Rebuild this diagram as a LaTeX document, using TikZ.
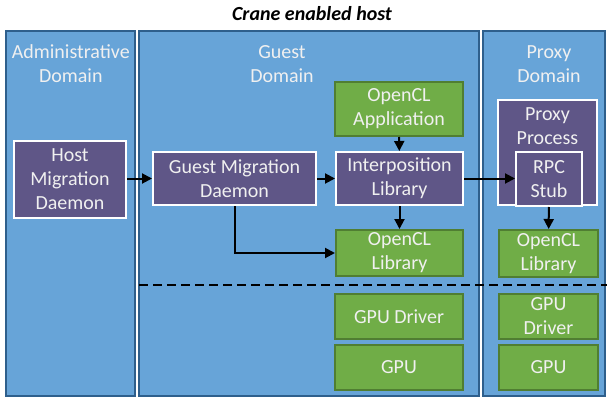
\documentclass[tikz,border=0pt]{standalone}
\usepackage{fontspec}
\setmainfont{Carlito}
\usetikzlibrary{arrows.meta}
\definecolor{domfill}{RGB}{103,164,216}
\definecolor{domline}{RGB}{46,95,140}
\definecolor{procfill}{RGB}{95,86,135}
\definecolor{libfill}{RGB}{112,173,71}
\definecolor{libline}{RGB}{80,126,50}
\definecolor{boxtext}{RGB}{240,240,240}
\tikzset{
  dombox/.style={draw=domline, fill=domfill, line width=1.5pt},
  domtext/.style={text=boxtext, align=center, font=\fontsize{20}{24}\selectfont},
  proc/.style={draw=white, fill=procfill, line width=2pt, text=boxtext,
    align=center, font=\fontsize{20}{24}\selectfont, inner sep=0pt},
  lib/.style={draw=libline, fill=libfill, line width=2pt, text=boxtext,
    align=center, font=\fontsize{20}{24}\selectfont, inner sep=0pt},
  arr/.style={line width=2pt, -{Triangle[length=10pt,width=10pt]}},
}
\begin{document}
\begin{tikzpicture}[x=1pt,y=-1pt]
  \useasboundingbox (0,0) rectangle (607,401);
  % domains
  \node[dombox, minimum width=129, minimum height=365] (admin) at (70.5,213.5) {};
  \node[dombox, minimum width=340, minimum height=365] (guest) at (309,213.5) {};
  \node[dombox, minimum width=122, minimum height=365] (proxyDom) at (544,213.5) {};
  \node[font=\fontsize{20}{24}\selectfont\bfseries\itshape] (title) at (312,14) {Crane enabled host};
  \node[domtext] (adminT) at (70.8,64) {Administrative\\Domain};
  \node[domtext] (guestT) at (282,64) {Guest\\Domain};
  \node[domtext] (proxyT) at (549,64) {Proxy\\Domain};
  % separator
  \draw[line width=2.5pt, dash pattern=on 9pt off 5pt] (139,285) -- (607,285);
  % purple boxes
  \node[proc, minimum width=112, minimum height=77] (host) at (70,179.5) {Host\\Migration\\Daemon};
  \node[proc, minimum width=163, minimum height=53] (gmd) at (234.5,178.5) {Guest Migration\\Daemon};
  \node[proc, minimum width=127, minimum height=53] (interp) at (399.5,178.5) {Interposition\\Library};
  \node[proc, minimum width=99, minimum height=105,
    label={[domtext, anchor=north, yshift=-5pt]north:Proxy\\Process}] (proxy) at (547.5,152.5) {};
  \node[proc, minimum width=66, minimum height=54] (rpc) at (549,179) {RPC\\Stub};
  % green boxes
  \node[lib, minimum width=128, minimum height=54] (app) at (399,109) {OpenCL\\Application};
  \node[lib, minimum width=127, minimum height=46] (gLib) at (399.5,253) {OpenCL\\Library};
  \node[lib, minimum width=128, minimum height=45] (gDrv) at (399,316.5) {GPU Driver};
  \node[lib, minimum width=128, minimum height=45] (gGpu) at (399,367.5) {GPU};
  \node[lib, minimum width=99, minimum height=47] (pLib) at (548.5,253.5) {OpenCL\\Library};
  \node[lib, minimum width=99, minimum height=45] (pDrv) at (548.5,316.5) {GPU\\Driver};
  \node[lib, minimum width=99, minimum height=45] (pGpu) at (548.5,367.5) {GPU};
  % arrows
  \draw[arr] (host.east |- gmd.west) -- (gmd);
  \draw[arr] (gmd) -- (interp);
  \draw[arr] (app) -- (interp);
  \draw[arr] (interp) -- (gLib);
  \draw[arr] (gmd.south) |- (gLib.west);
  \draw[arr] (interp.east) -- (interp.east -| rpc.west);
  \draw[arr] (rpc) -- (pLib);
\end{tikzpicture}
\end{document}
